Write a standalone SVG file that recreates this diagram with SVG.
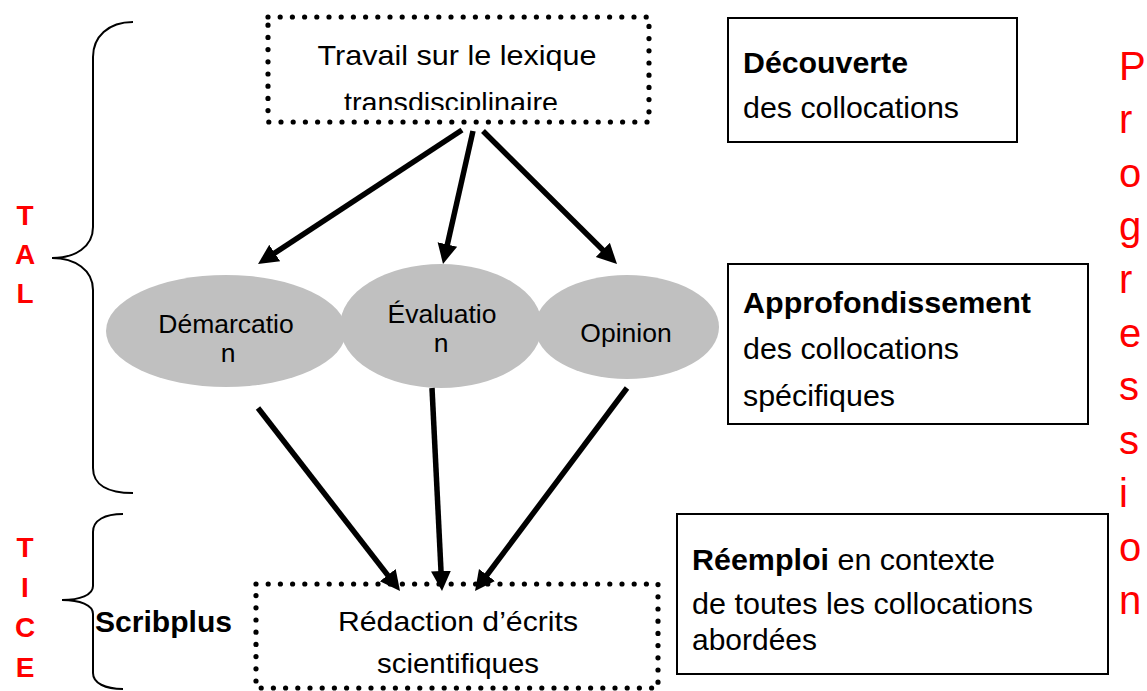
<svg xmlns="http://www.w3.org/2000/svg" width="1147" height="691" viewBox="0 0 1147 691">
<style>
.t{font-family:"Liberation Sans",Arial,sans-serif;fill:#000}
.b{font-weight:bold}
.red{fill:#ff0000}
.m{text-anchor:middle}
.dot{fill:none;stroke:#000;stroke-width:5.2;stroke-linecap:round;stroke-dasharray:0 12.2}
.box{fill:#fff;stroke:#000;stroke-width:2}
.ell{fill:#c0c0c0}
.brace{fill:none;stroke:#000;stroke-width:2}
.arr{fill:none;stroke:#000;stroke-width:5.5;marker-end:url(#ah)}
</style>
<defs>
<marker id="ah" markerUnits="userSpaceOnUse" markerWidth="22" markerHeight="24" viewBox="0 0 22 24" refX="10" refY="12" orient="auto"><path d="M0,2 L20,12 L0,22 z" fill="#000"/></marker>
<clipPath id="clipTop"><rect x="268" y="17" width="382" height="93"/></clipPath>
</defs>
<rect width="1147" height="691" fill="#fff"/>

<g id="braces">
<path class="brace" d="M133,22 C108,22 93,37 93,57 L93,227 C93,247 75,258 52,258 C75,258 93,270 93,290 L93,468 C93,485 108,493 133,493"/>
<path class="brace" d="M123,514 C105,514 93,520 93,532 L93,586 C93,595 80,600 62,600 C80,600 93,605 93,614 L93,673 C93,683 105,689 123,689"/>
</g>

<g id="label-tal" class="t b red" font-size="28">
<text class="m" x="25" y="225">T</text>
<text class="m" x="25" y="264">A</text>
<text class="m" x="25" y="303">L</text>
</g>
<g id="label-tice" class="t b red" font-size="28">
<text class="m" x="25" y="557">T</text>
<text class="m" x="25" y="597">I</text>
<text class="m" x="25" y="637">C</text>
<text class="m" x="25" y="677">E</text>
</g>
<g id="label-scribplus">
<text class="t b" font-size="29" x="95" y="632" textLength="137" lengthAdjust="spacingAndGlyphs">Scribplus</text>
</g>

<g id="node-lexique">
<rect class="dot" x="268" y="17" width="381" height="105"/>
<text class="t m" font-size="28" x="457" y="65" textLength="279" lengthAdjust="spacingAndGlyphs">Travail sur le lexique</text>
<text class="t m" font-size="28" x="451" y="112" textLength="214" lengthAdjust="spacingAndGlyphs" clip-path="url(#clipTop)">transdisciplinaire</text>
</g>

<g id="node-demarcation">
<ellipse class="ell" cx="226" cy="331" rx="120" ry="56"/>
<text class="t m" font-size="26.5" x="226" y="333">Démarcatio</text>
<text class="t m" font-size="26.5" x="228" y="362">n</text>
</g>
<g id="node-evaluation">
<ellipse class="ell" cx="441" cy="326" rx="101" ry="62"/>
<text class="t m" font-size="26.5" x="442" y="323">Évaluatio</text>
<text class="t m" font-size="26.5" x="441" y="352">n</text>
</g>
<g id="node-opinion">
<ellipse class="ell" cx="627" cy="327" rx="92" ry="52"/>
<text class="t m" font-size="26.5" x="626" y="342">Opinion</text>
</g>

<g id="node-redaction">
<rect class="dot" x="256" y="584" width="402" height="104"/>
<text class="t m" font-size="28" x="458" y="631" textLength="240" lengthAdjust="spacingAndGlyphs">Rédaction d’écrits</text>
<text class="t m" font-size="28" x="458" y="673" textLength="162" lengthAdjust="spacingAndGlyphs">scientifiques</text>
</g>

<g id="connectors">
<line class="arr" x1="462" y1="130" x2="266.4" y2="258.5"/>
<line class="arr" x1="473" y1="131" x2="445.2" y2="254.2"/>
<line class="arr" x1="483" y1="131" x2="609.9" y2="257.0"/>
<line class="arr" x1="258" y1="408" x2="393.9" y2="583.1"/>
<line class="arr" x1="432" y1="388" x2="441.5" y2="581.0"/>
<line class="arr" x1="627" y1="388" x2="481.0" y2="583.0"/>
</g>

<g id="node-decouverte">
<rect class="box" x="728" y="18" width="289" height="124"/>
<text class="t b" font-size="29" x="743" y="73" textLength="165" lengthAdjust="spacingAndGlyphs">Découverte</text>
<text class="t" font-size="29" x="743" y="118" textLength="216" lengthAdjust="spacingAndGlyphs">des collocations</text>
</g>
<g id="node-approfondissement">
<rect class="box" x="728" y="264" width="360" height="160"/>
<text class="t b" font-size="29" x="743" y="313" textLength="288" lengthAdjust="spacingAndGlyphs">Approfondissement</text>
<text class="t" font-size="29" x="743" y="359" textLength="216" lengthAdjust="spacingAndGlyphs">des collocations</text>
<text class="t" font-size="29" x="743" y="406" textLength="152" lengthAdjust="spacingAndGlyphs">spécifiques</text>
</g>
<g id="node-reemploi">
<rect class="box" x="677" y="514" width="431" height="160"/>
<text class="t" font-size="29" x="692" y="570" textLength="303" lengthAdjust="spacingAndGlyphs"><tspan class="b">Réemploi</tspan> en contexte</text>
<text class="t" font-size="29" x="692" y="614" textLength="341" lengthAdjust="spacingAndGlyphs">de toutes les collocations</text>
<text class="t" font-size="29" x="692" y="650" textLength="125" lengthAdjust="spacingAndGlyphs">abordées</text>
</g>

<g id="label-progression" class="t red" font-size="40">
<text x="1119" y="80">P</text>
<text x="1119" y="133">r</text>
<text x="1119" y="187">o</text>
<text x="1119" y="240">g</text>
<text x="1119" y="293">r</text>
<text x="1119" y="347">e</text>
<text x="1119" y="400">s</text>
<text x="1119" y="454">s</text>
<text x="1119" y="507">i</text>
<text x="1119" y="561">o</text>
<text x="1119" y="614">n</text>
</g>
</svg>
